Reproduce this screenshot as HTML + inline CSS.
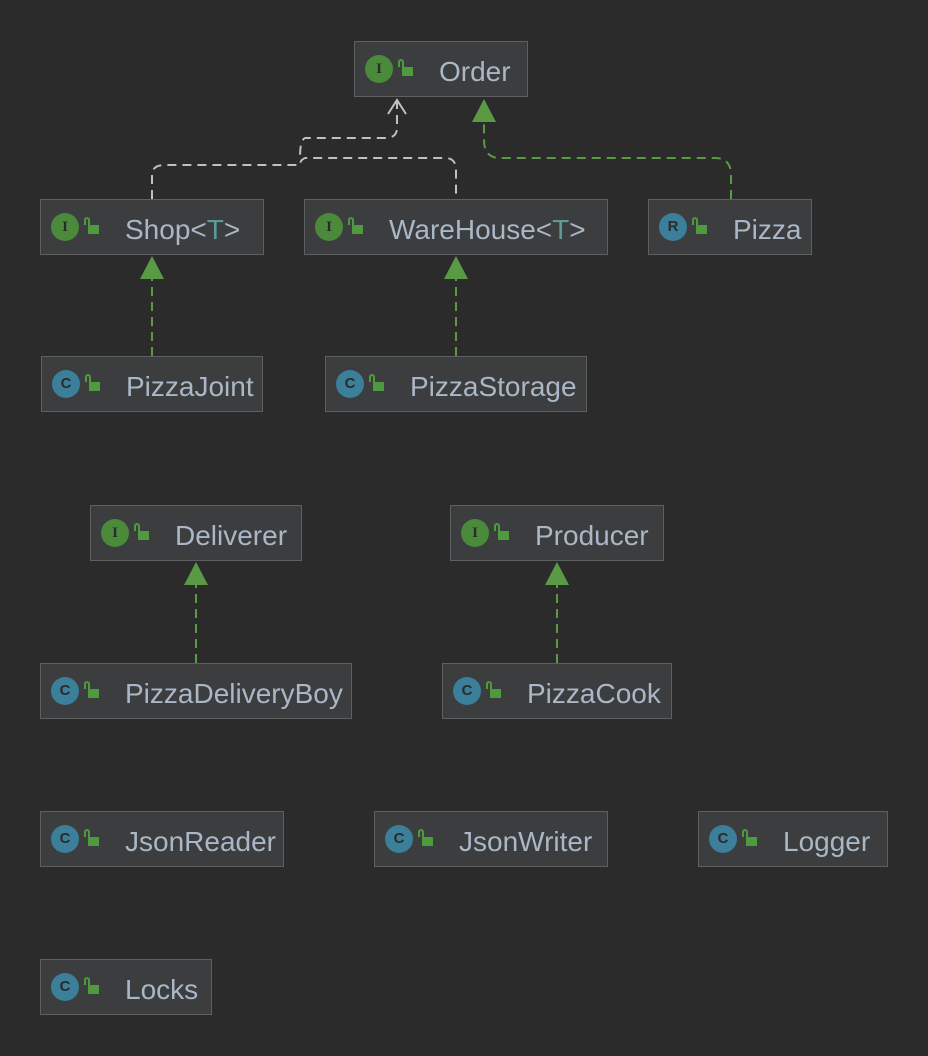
<!DOCTYPE html>
<html><head><style>
body{margin:0;width:928px;height:1056px;background:#2b2b2b;position:relative;overflow:hidden;font-family:"Segoe UI","Liberation Sans","DejaVu Sans",sans-serif}
.b{position:absolute;height:54px;background:#3c3d3e;border:1px solid #5e6060;box-sizing:content-box}
.ic{position:absolute;left:10px;top:13px;width:28px;height:28px;border-radius:50%;color:#2b2b2b;font:bold 15px "Liberation Serif",serif;text-align:center;line-height:28px}
.i{background:#4b8a3a}.c{background:#3b7f9a;font-family:"Liberation Sans",sans-serif}
.lk{position:absolute;left:47px;top:25px;width:11px;height:9px;background:#4f9a3f}
.lk:before{content:"";position:absolute;left:-4px;top:-8px;width:6px;height:8px;border:2px solid #4f9a3f;border-bottom:none;border-radius:4px 4px 0 0;box-sizing:border-box}
.t{position:absolute;left:84px;top:14px;font-size:28px;line-height:32px;color:#a9b7c6;white-space:nowrap}
.t span{color:#5e9a9a}
</style></head><body>
<svg width="928" height="1056" style="position:absolute;left:0;top:0">
<g fill="none" stroke="#c0c0c0" stroke-width="2" stroke-dasharray="9,6">
<path d="M152,199 V175 Q152,165 165,165 H300 Q300,160 305,158 H445 Q456,158 456,170 V199"/>
<path d="M397,100 V128 Q397,138 385,138 H305 Q300,140 300,158"/>
</g>
<path d="M388,114 L397,100 L406,114" fill="none" stroke="#c0c0c0" stroke-width="2"/>
<g fill="none" stroke="#5a9a45" stroke-width="2" stroke-dasharray="9,6">
<path d="M731,199 V175 Q731,158 715,158 H500 Q484,158 484,140 V120"/>
<path d="M152,356 V278"/><path d="M456,356 V278"/>
<path d="M196,663 V585"/><path d="M557,663 V585"/>
</g>
<g fill="#5a9a45">
<polygon points="484,99 472,122 496,122"/>
<polygon points="152,256 140,279 164,279"/>
<polygon points="456,256 444,279 468,279"/>
<polygon points="196,562 184,585 208,585"/>
<polygon points="557,562 545,585 569,585"/>
</g>
</svg>
<div class="b" style="left:354px;top:41px;width:172px"><div class="ic i">I</div><div class="lk"></div><div class="t">Order</div></div>
<div class="b" style="left:40px;top:199px;width:222px"><div class="ic i">I</div><div class="lk"></div><div class="t">Shop&lt;<span>T</span>&gt;</div></div>
<div class="b" style="left:304px;top:199px;width:302px"><div class="ic i">I</div><div class="lk"></div><div class="t">WareHouse&lt;<span>T</span>&gt;</div></div>
<div class="b" style="left:648px;top:199px;width:162px"><div class="ic c">R</div><div class="lk"></div><div class="t">Pizza</div></div>
<div class="b" style="left:41px;top:356px;width:220px"><div class="ic c">C</div><div class="lk"></div><div class="t">PizzaJoint</div></div>
<div class="b" style="left:325px;top:356px;width:260px"><div class="ic c">C</div><div class="lk"></div><div class="t">PizzaStorage</div></div>
<div class="b" style="left:90px;top:505px;width:210px"><div class="ic i">I</div><div class="lk"></div><div class="t">Deliverer</div></div>
<div class="b" style="left:450px;top:505px;width:212px"><div class="ic i">I</div><div class="lk"></div><div class="t">Producer</div></div>
<div class="b" style="left:40px;top:663px;width:310px"><div class="ic c">C</div><div class="lk"></div><div class="t">PizzaDeliveryBoy</div></div>
<div class="b" style="left:442px;top:663px;width:228px"><div class="ic c">C</div><div class="lk"></div><div class="t">PizzaCook</div></div>
<div class="b" style="left:40px;top:811px;width:242px"><div class="ic c">C</div><div class="lk"></div><div class="t">JsonReader</div></div>
<div class="b" style="left:374px;top:811px;width:232px"><div class="ic c">C</div><div class="lk"></div><div class="t">JsonWriter</div></div>
<div class="b" style="left:698px;top:811px;width:188px"><div class="ic c">C</div><div class="lk"></div><div class="t">Logger</div></div>
<div class="b" style="left:40px;top:959px;width:170px"><div class="ic c">C</div><div class="lk"></div><div class="t">Locks</div></div>
</body></html>
